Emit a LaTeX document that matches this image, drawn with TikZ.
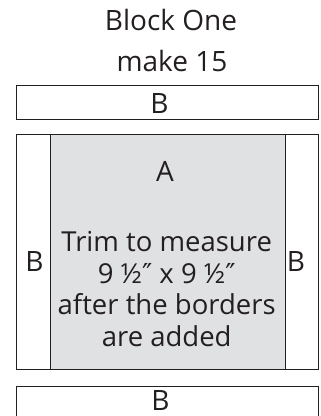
\documentclass[tikz,border=0pt]{standalone}
\usepackage{fontspec}
\setmainfont{Open Sans}
\newfontfamily\symfont{DejaVu Sans}
\newcommand{\inchmark}{{\symfont ″}}
\definecolor{ink}{HTML}{231F20}
\definecolor{fillA}{HTML}{E0E1E3}
\begin{document}
\begin{tikzpicture}[x=1pt,y=-1pt,
  strip/.style={draw=ink, line width=1pt, inner sep=0pt, outer sep=0pt},
  lbl/.style={text=ink, inner sep=0pt, anchor=base},
  titletext/.style={lbl, font=\fontsize{28}{41}\selectfont, align=center},
  btext/.style={lbl, font=\fontsize{28}{32}\selectfont},
  mtext/.style={lbl, font=\fontsize{27.5}{31.4}\selectfont, align=center}]
\useasboundingbox (0,0) rectangle (321,416);
% title
\node[titletext] (title1) at (171,30.7) {Block One};
\node[titletext] (title2) at (172,71.7) {make 15};
% top strip
\node[strip, minimum width=301.8pt, minimum height=34pt] (topB) at (167.4,102.5) {};
\node[btext] (topBl) at (159.5,113.3) {B};
% middle block
\node[strip, fill=fillA, minimum width=234.5pt, minimum height=234.5pt] (A) at (167.75,251.75) {};
\node[strip, minimum width=34pt, minimum height=234.5pt] (leftB) at (33.5,251.75) {};
\node[strip, minimum width=33.3pt, minimum height=234.5pt] (rightB) at (301.65,251.75) {};
\node[btext] (leftBl) at (34.5,271.7) {B};
\node[btext] (rightBl) at (296,271.7) {B};
\node[btext] (Al) at (165,181.5) {A};
\node[mtext] (m1) at (166.7,251.7) {Trim to measure};
\node[mtext] (m2) at (166.7,283) {9 ½\inchmark\ x 9 ½\inchmark};
\node[mtext] (m3) at (166.7,314) {after the borders};
\node[mtext] (m4) at (166.7,346) {are added};
% bottom strip
\node[strip, minimum width=301.8pt, minimum height=40pt] (botB) at (167.4,406) {};
\node[btext] (botBl) at (160.5,410) {B};
\end{tikzpicture}
\end{document}
